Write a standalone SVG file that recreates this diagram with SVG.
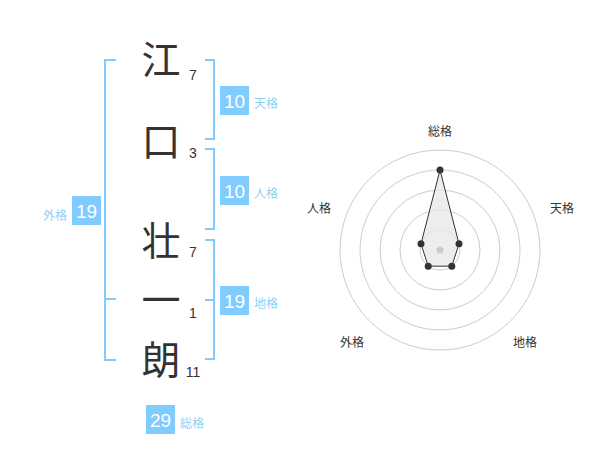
<svg xmlns="http://www.w3.org/2000/svg" width="600" height="470" viewBox="0 0 600 470">
<style>
.ch{font-family:"Noto Sans CJK JP","Noto Sans CJK SC",sans-serif;font-size:39px;fill:#333;text-anchor:middle}
.num{font-family:"Liberation Sans",Arial,sans-serif;font-size:14px;fill:#333;text-anchor:middle}
.br{fill:none;stroke:#80ccff;stroke-width:2}
.box{fill:#80ccff}
.bn{font-family:"Liberation Sans",Arial,sans-serif;font-size:19px;fill:#fff;text-anchor:middle}
.lb{font-family:"Noto Sans CJK JP","Noto Sans CJK SC",sans-serif;font-size:12px;fill:#8fd0f8}
.rl{font-family:"Noto Sans CJK JP","Noto Sans CJK SC",sans-serif;font-size:12px;fill:#333;text-anchor:middle}
.ring{fill:none;stroke:#ccc;stroke-width:1}
</style>
<rect width="600" height="470" fill="#fff"/>
<g id="chars">
<text class="ch" x="161" y="74">江</text>
<text class="ch" x="161" y="156">口</text>
<text class="ch" x="161" y="255">壮</text>
<text class="ch" x="161" y="314">一</text>
<text class="ch" x="161" y="374">朗</text>
<text class="num" x="193" y="80">7</text>
<text class="num" x="193" y="158">3</text>
<text class="num" x="193" y="257">7</text>
<text class="num" x="193" y="318">1</text>
<text class="num" x="193" y="377">11</text>
</g>
<g id="connectors">
<path class="br" d="M116 60H105V360H116M105 299H116"/>
<path class="br" d="M205 60H214V139H205"/>
<path class="br" d="M205 149H214V229H205"/>
<path class="br" d="M205 240H214V359H205M205 300H214"/>
</g>
<g id="gaikaku">
<rect class="box" x="72" y="196" width="29" height="29"/>
<text class="bn" x="86.5" y="217.5">19</text>
<text class="lb" x="67" y="220" text-anchor="end">外格</text>
</g>
<g id="tenkaku">
<rect class="box" x="220" y="86" width="29" height="29"/>
<text class="bn" x="234.5" y="107.5">10</text>
<text class="lb" x="254" y="108">天格</text>
</g>
<g id="jinkaku">
<rect class="box" x="220" y="176" width="29" height="29"/>
<text class="bn" x="234.5" y="197.5">10</text>
<text class="lb" x="254" y="198">人格</text>
</g>
<g id="chikaku">
<rect class="box" x="220" y="286" width="29" height="29"/>
<text class="bn" x="234.5" y="307.5">19</text>
<text class="lb" x="254" y="308">地格</text>
</g>
<g id="soukaku">
<rect class="box" x="146" y="405" width="29" height="29"/>
<text class="bn" x="160.5" y="426.5">29</text>
<text class="lb" x="180" y="428">総格</text>
</g>
<g id="radar">
<circle class="ring" cx="440" cy="250" r="100"/>
<circle class="ring" cx="440" cy="250" r="80"/>
<circle class="ring" cx="440" cy="250" r="60"/>
<circle class="ring" cx="440" cy="250" r="40"/>
<circle class="ring" cx="440" cy="250" r="20"/>
<polygon points="440,170 459,243.8 451.8,266.2 428.2,266.2 421,243.8" fill="#e8e8e8" fill-opacity="0.8" stroke="#333" stroke-width="1"/>
<circle cx="440" cy="250" r="3.5" fill="#ccc"/>
<g fill="#333">
<circle cx="440" cy="170" r="3.5"/>
<circle cx="459" cy="243.8" r="3.5"/>
<circle cx="451.8" cy="266.2" r="3.5"/>
<circle cx="428.2" cy="266.2" r="3.5"/>
<circle cx="421" cy="243.8" r="3.5"/>
</g>
<text class="rl" x="440" y="136">総格</text>
<text class="rl" x="562" y="213">天格</text>
<text class="rl" x="319" y="213">人格</text>
<text class="rl" x="352" y="347">外格</text>
<text class="rl" x="525" y="347">地格</text>
</g>
</svg>
